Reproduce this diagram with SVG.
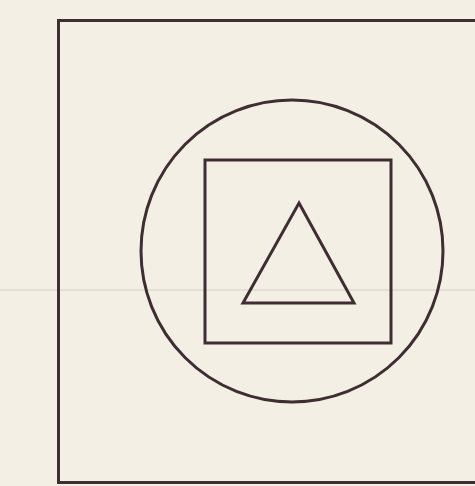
<svg xmlns="http://www.w3.org/2000/svg" width="475" height="486" viewBox="0 0 475 486">
  <style>
    .ln { fill: none; stroke: #3f2d33; stroke-width: 3; stroke-linejoin: miter; }
  </style>
  <rect x="0" y="0" width="475" height="486" fill="#f3efe4"/>
  <line x1="0" y1="290" x2="475" y2="290" stroke="#dcdad2" stroke-width="2" opacity="0.7"/>
  <g id="outer-square">
    <rect class="ln" x="58.5" y="20.5" width="430" height="462"/>
  </g>
  <g id="circle">
    <circle class="ln" cx="292" cy="251" r="151"/>
  </g>
  <g id="inner-square">
    <rect class="ln" x="205" y="160" width="186" height="183"/>
  </g>
  <g id="triangle">
    <polygon class="ln" points="299,203 354,303 243,303"/>
  </g>
</svg>
